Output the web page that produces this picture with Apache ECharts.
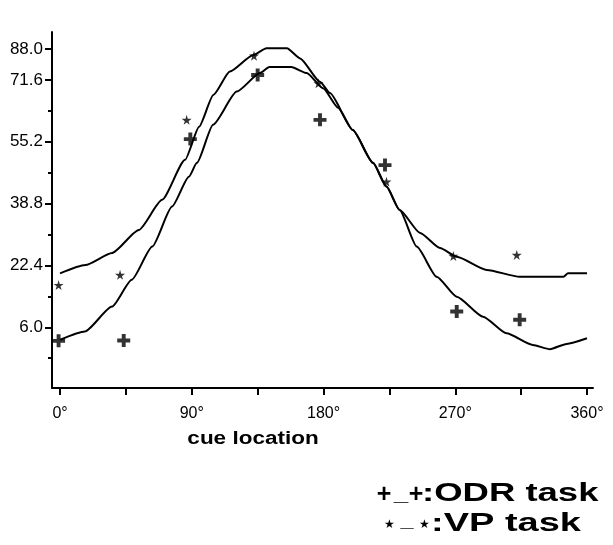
<!DOCTYPE html>
<html>
<head>
<meta charset="utf-8">
<script src="https://cdn.jsdelivr.net/npm/echarts@6/dist/echarts.min.js"></script>
<style>
html,body{margin:0;padding:0;background:#fff;}
#chart{width:613px;height:545px;}
</style>
</head>
<body>
<div id="chart"></div>
<script>
// ---- data ----
var xTickVals = [0, 45, 90, 135, 180, 225, 270, 315, 360];
var xLabelVals = [0, 90, 180, 270, 360];
var xLabelTexts = ["0°", "90°", "180°", "270°", "360°"];

var yTickVals = [6.0, 22.4, 38.8, 55.2, 71.6, 79.8];
var yTickLabels = ["6.0", "22.4", "38.8", "55.2", "71.6", "88.0"];
var yMinorVals = [-2.2, 14.2, 30.6, 47.0, 63.4];

// fitted curves (cue location in degrees, response)
var odrCurve = [[0,2.7],[17,4.9],[35.5,11.5],[49,18.6],[63,27.4],[76.5,38.0],[88,45.9],[93.5,49.6],
  [104.5,59.7],[120.7,68.5],[136.6,73.4],[143,75.0],[158,75.0],[168.5,73.4],[179.7,69.4],[190,64.2],
  [200,58.3],[213.8,49.6],[223,43.3],[232,37.1],[243.7,27.4],[257.3,19.4],[271,14.1],[289,8.8],
  [305,4.4],[323,1.3],[334.7,0.2],[346,1.6],[360,3.1]];
var vpCurve = [[0,20.3],[17.3,22.5],[35.5,25.7],[53.8,31.8],[69.7,39.8],[85.4,50.4],[95,59.2],
  [104.7,67.6],[116,73.8],[132,78.2],[141,80.0],[155,80.0],[164,77.3],[177.6,71.1],[184.4,68.1],
  [200,58.3],[213.8,49.6],[223,43.3],[232,37.1],[246,31.0],[259.6,27.0],[271,24.7],[291.5,21.2],
  [314,19.4],[344,19.4],[347,20.3],[360,20.3]];

// measured points
var odrPoints = [[-1,2.4],[43.5,2.5],[89,55.9],[135,72.9],[177.6,61.0],[222,49.0],[271,10.2],[314,8.0]];
var vpPoints = [[-1,17.2],[41,19.9],[86.5,61.0],[132.5,78.0],[176.5,70.7],[223,44.6],[268.7,24.9],[312,25.2]];

var xLabelName = "cue location";
var legendOdr = ":ODR task";
var legendVp = ":VP task";

// ---- chart ----
var plusPath = 'path://M3.5,0H6.5V3.5H10V6.5H6.5V10H3.5V6.5H0V3.5H3.5Z';
var starPath = 'path://M50,0L61,35L98,35L68,57L79,91L50,70L21,91L32,57L2,35L39,35Z';
var FONT = 'Liberation Sans, Arial, Helvetica, sans-serif';

var chart = echarts.init(document.getElementById('chart'), null, {renderer: 'canvas'});
var axisLineStyle = {color: '#000', width: 2};

function txt(x, y, s, font, sx, align) {
  return {type: 'text', x: x, y: y, scaleX: sx || 1,
    style: {text: s, fill: '#000', font: font, textAlign: align || 'left', textVerticalAlign: 'middle'}};
}

chart.setOption({
  animation: false,
  backgroundColor: '#fff',
  grid: {left: 52, right: 20, top: 32, bottom: 157, containLabel: false},
  xAxis: {
    type: 'value', min: -5.5, max: 364.1,
    axisLine: {show: true, onZero: false, lineStyle: axisLineStyle},
    axisTick: {show: true, customValues: xTickVals, length: 7, inside: false, lineStyle: {color: '#000', width: 2}},
    axisLabel: {show: true, customValues: xLabelVals, margin: 18, color: '#000', fontSize: 16, fontFamily: FONT,
      formatter: function (v) { var i = xLabelVals.indexOf(v); return i >= 0 ? xLabelTexts[i] : ''; }},
    splitLine: {show: false}
  },
  yAxis: [{
    type: 'value', min: -10.1, max: 84.3,
    axisLine: {show: true, onZero: false, lineStyle: axisLineStyle},
    axisTick: {show: true, customValues: yTickVals, length: 7, lineStyle: {color: '#000', width: 2}},
    axisLabel: {show: true, customValues: yTickVals, margin: 9, color: '#000', fontSize: 17, fontFamily: FONT,
      formatter: function (v) {
        for (var i = 0; i < yTickVals.length; i++) { if (Math.abs(yTickVals[i] - v) < 1e-6) return yTickLabels[i]; }
        return '';
      }},
    splitLine: {show: false}
  }, {
    type: 'value', min: -10.1, max: 84.3, position: 'left', offset: 0,
    axisLine: {show: false, onZero: false},
    axisTick: {show: true, customValues: yMinorVals, length: 4, inside: false, lineStyle: {color: '#000', width: 2}},
    axisLabel: {show: false},
    splitLine: {show: false}
  }],
  series: [
    {type: 'line', data: odrCurve, showSymbol: false, smooth: 0.2, smoothMonotone: 'x',
      lineStyle: {color: '#000', width: 2}, z: 2},
    {type: 'line', data: vpCurve, showSymbol: false, smooth: 0.2, smoothMonotone: 'x',
      lineStyle: {color: '#000', width: 2}, z: 2},
    {type: 'scatter', data: odrPoints, symbol: plusPath, symbolSize: 13,
      itemStyle: {color: '#000'}, z: 3},
    {type: 'scatter', data: vpPoints, symbol: starPath, symbolSize: 10,
      itemStyle: {color: '#000'}, z: 3}
  ],
  graphic: [
    txt(253, 439, xLabelName, 'bold 18px ' + FONT, 1.25, 'center'),
    txt(384, 495, '+', 'bold 25px ' + FONT, 1, 'center'),
    txt(401, 494, '_', 'bold 20px ' + FONT, 1.3, 'center'),
    txt(416, 495, '+', 'bold 25px ' + FONT, 1, 'center'),
    txt(422, 494, legendOdr, 'bold 25px ' + FONT, 1.46, 'left'),
    txt(389, 525, '\u2605', '12px ' + FONT, 1, 'center'),
    txt(407, 522, '_', 'bold 18px ' + FONT, 1.3, 'center'),
    txt(424, 525, '\u2605', '12px ' + FONT, 1, 'center'),
    txt(431, 524, legendVp, 'bold 25px ' + FONT, 1.52, 'left')
  ]
});
</script>
</body>
</html>
